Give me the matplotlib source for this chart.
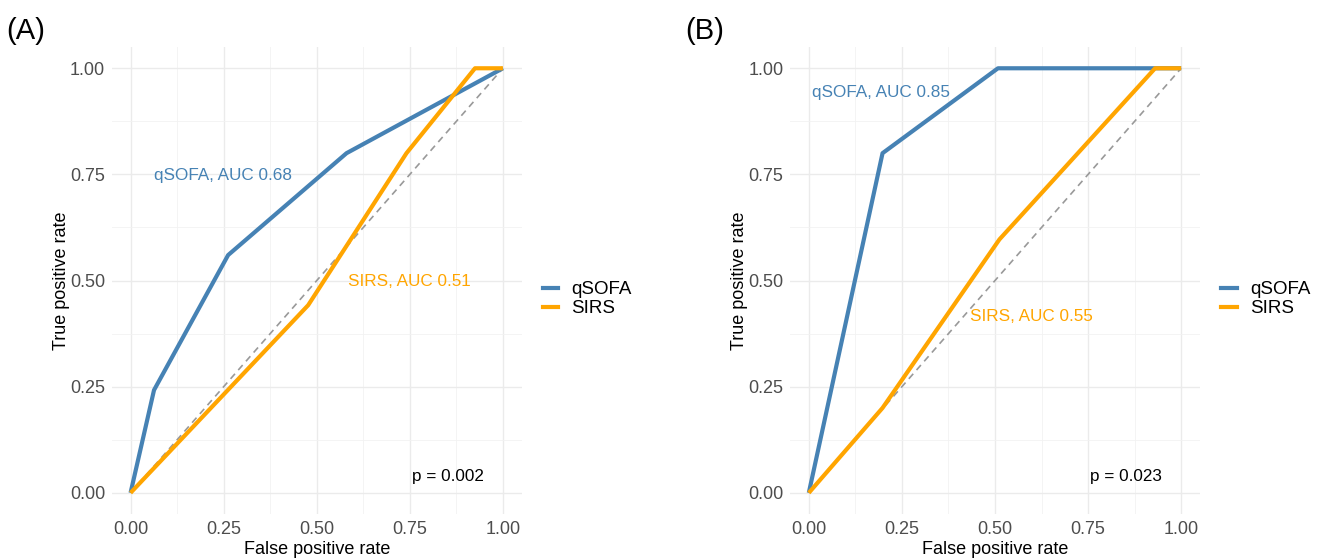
import matplotlib.pyplot as plt
from matplotlib.lines import Line2D

plt.rcParams['font.family'] = ['Liberation Sans', 'DejaVu Sans']

# panel A
a_qsofa_fpr = [0.0, 0.063, 0.262, 0.58, 1.0]
a_qsofa_tpr = [0.0, 0.242, 0.56, 0.80, 1.0]
a_sirs_fpr = [0.0, 0.477, 0.741, 0.925, 1.0]
a_sirs_tpr = [0.0, 0.442, 0.80, 1.0, 1.0]

# panel B
b_qsofa_fpr = [0.0, 0.198, 0.508, 1.0]
b_qsofa_tpr = [0.0, 0.80, 1.0, 1.0]
b_sirs_fpr = [0.0, 0.198, 0.512, 0.93, 1.0]
b_sirs_tpr = [0.0, 0.20, 0.597, 1.0, 1.0]

panels = ['(A)', '(B)']
auc_qsofa = ['0.68', '0.85']
auc_sirs = ['0.51', '0.55']
pvals = ['0.002', '0.023']
qsofa_lab_pos = [(0.249, 0.748), (0.195, 0.944)]
sirs_lab_pos = [(0.749, 0.497), (0.598, 0.416)]
p_lab_pos = [(0.852, 0.038), (0.852, 0.038)]

ticks = [0.0, 0.25, 0.5, 0.75, 1.0]
tick_labels = ['0.00', '0.25', '0.50', '0.75', '1.00']
minor = [0.125, 0.375, 0.625, 0.875]

blue = '#4682B4'
orange = '#FFA500'

fig = plt.figure(figsize=(13.17, 5.6), dpi=100)
lefts = [0.085, 0.600]
data = [(a_qsofa_fpr, a_qsofa_tpr, a_sirs_fpr, a_sirs_tpr),
        (b_qsofa_fpr, b_qsofa_tpr, b_sirs_fpr, b_sirs_tpr)]

for i in range(2):
    ax = fig.add_axes([lefts[i], 0.082, 0.311, 0.834])
    qx, qy, sx, sy = data[i]
    ax.plot([0, 1], [0, 1], color='#999999', ls=(0, (4, 3)), lw=1.2, zorder=2)
    ax.plot(qx, qy, color=blue, lw=3, solid_capstyle='butt', zorder=3)
    ax.plot(sx, sy, color=orange, lw=3, solid_capstyle='butt', zorder=4)
    ax.text(*qsofa_lab_pos[i], 'qSOFA, AUC ' + auc_qsofa[i], color=blue,
            fontsize=12.3, ha='center', va='center')
    ax.text(*sirs_lab_pos[i], 'SIRS, AUC ' + auc_sirs[i], color=orange,
            fontsize=12.3, ha='center', va='center')
    ax.text(*p_lab_pos[i], 'p = ' + pvals[i], color='black', fontsize=12.3,
            ha='center', va='center')

    ax.set_xlim(-0.05, 1.05)
    ax.set_ylim(-0.05, 1.05)
    ax.set_xticks(ticks)
    ax.set_xticklabels(tick_labels)
    ax.set_yticks(ticks)
    ax.set_yticklabels(tick_labels)
    ax.set_xticks(minor, minor=True)
    ax.set_yticks(minor, minor=True)
    ax.grid(True, which='major', color='#EBEBEB', lw=1.0)
    ax.grid(True, which='minor', color='#F2F2F2', lw=0.6)
    ax.set_axisbelow(True)
    ax.tick_params(which='both', length=0, labelsize=13, labelcolor='#4D4D4D', pad=5)
    for s in ax.spines.values():
        s.set_visible(False)
    ax.set_xlabel('False positive rate', fontsize=13, labelpad=2)
    ax.set_ylabel('True positive rate', fontsize=13, labelpad=0)

    handles = [Line2D([], [], color=blue, lw=3), Line2D([], [], color=orange, lw=3)]
    ax.legend(handles, ['qSOFA', 'SIRS'], loc='center left', bbox_to_anchor=(1.01, 0.46),
              frameon=False, fontsize=13.5, handlelength=0.85, handletextpad=0.7,
              labelspacing=0.08)

    fig.text(lefts[i] - 0.08, 0.945, panels[i], fontsize=21, ha='left', va='center')

fig.savefig('out.png', dpi=100)
